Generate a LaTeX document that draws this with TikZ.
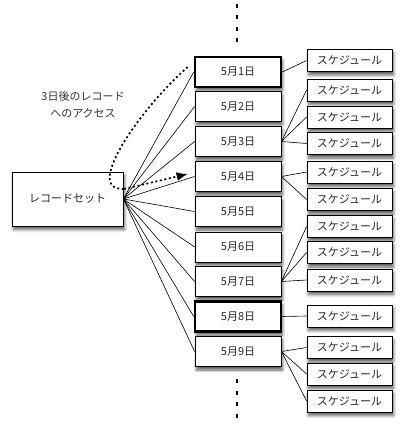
\documentclass[tikz,border=0pt]{standalone}
\usepackage{fontspec}
\setmainfont{Noto Sans CJK JP}
\usetikzlibrary{shadows.blur,arrows.meta}
\begin{document}
\begin{tikzpicture}[x=1pt,y=-1pt,
  shad/.style={blur shadow={shadow xshift=1.5pt,shadow yshift=-3.5pt,shadow blur steps=6,shadow blur radius=3pt,shadow opacity=65}},
  basebox/.style={draw=black,fill=white,inner sep=0pt,shad,text=black!85,font=\fontsize{11}{13}\selectfont},
  recbox/.style={basebox,line width=0.8pt,minimum width=111pt,minimum height=54pt},
  datebox/.style={basebox,line width=0.8pt,minimum width=86pt,minimum height=30pt},
  keybox/.style={datebox,line width=2.6pt},
  schedbox/.style={basebox,line width=0.8pt,minimum width=85pt,minimum height=22pt},
  conn/.style={line width=0.6pt},
  vdots/.style={line width=2.6pt,dash pattern=on 4pt off 7.5pt},
  accpath/.style={line width=1.7pt,dash pattern=on 2pt off 2.6pt},
  lbl/.style={font=\fontsize{11}{13}\selectfont,text=black!80}
]
\useasboundingbox (0,0) rectangle (403,427);

% vertical dots
\coordinate (vt1) at (237,4);
\coordinate (vt2) at (237,46);
\coordinate (vb1) at (237,379);
\coordinate (vb2) at (237,420);
\draw[vdots] (vt1) -- (vt2);
\draw[vdots] (vb1) -- (vb2);

\node[recbox] (rs) at (67.5,199) {レコードセット};

\node[keybox]  (d1) at (238,72)    {5月1日};
\node[datebox] (d2) at (238,106.5) {5月2日};
\node[datebox] (d3) at (238,141.5) {5月3日};
\node[datebox] (d4) at (238,176.5) {5月4日};
\node[datebox] (d5) at (238,211.5) {5月5日};
\node[datebox] (d6) at (238,247)   {5月6日};
\node[datebox] (d7) at (238,281.5) {5月7日};
\node[keybox]  (d8) at (238,316.5) {5月8日};
\node[datebox] (d9) at (238,351.5) {5月9日};

\foreach \n/\y in {1/60.5,2/90,3/117,4/143.5,5/172,6/199.5,7/226.5,8/252.5,9/280,10/316,11/347.5,12/374,13/401}
  \node[schedbox] (s\n) at (349.5,\y) {スケジュール};

\foreach \i in {1,...,9}
  \draw[conn] (rs.east) -- (d\i.west);

\foreach \d/\s in {1/1,3/2,3/3,3/4,4/5,4/6,7/7,7/8,7/9,8/10,9/11,9/12,9/13}
  \draw[conn] (d\d.east) -- (s\s.west);

\node[lbl] (l1) at (83,96.5) {3日後のレコード};
\node[lbl] (l2) at (83,113) {へのアクセス};

\coordinate (a0) at ($(d1.west)+(-6,-5)$);
\coordinate (a1) at (124,189);
\coordinate (a2) at ($(d4.west)+(-7,-2.5)$);
\draw[accpath] (a0) .. controls (150,100) and (105,160) .. (110,182)
  .. controls (112,188) and (118,189) .. (a1);
\draw[accpath,-{Latex[length=11pt,width=9pt]}] (a1) -- (a2);
\end{tikzpicture}
\end{document}
